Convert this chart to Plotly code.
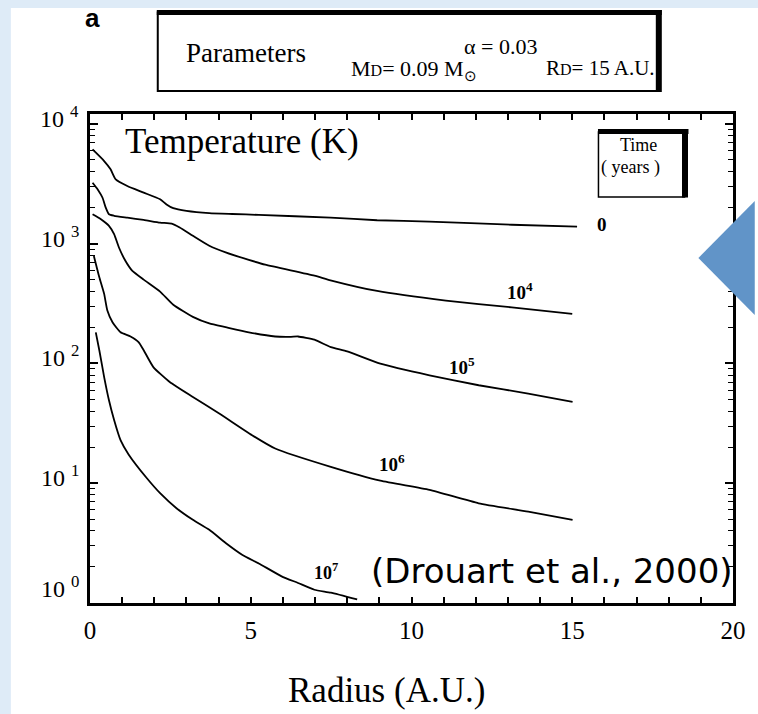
import math
import plotly.graph_objects as go

# ---------------- data ----------------
radius_t0 = [0.08, 0.44, 0.64, 0.80, 1.16, 1.67, 2.18, 2.38, 2.59, 3.0, 3.71, 4.42, 5.25, 7.48, 8.93, 10.55, 13.12, 15.15]
temp_t0 = [6120, 4900, 4180, 3440, 3030, 2670, 2350, 2130, 1980, 1880, 1800, 1770, 1740, 1650, 1570, 1530, 1440, 1390]

radius_t4 = [0.08, 0.24, 0.39, 0.49, 0.59, 0.75, 1.16, 1.67, 2.18, 2.54, 2.79, 3.20, 3.71, 4.22, 4.94, 5.45, 6.98, 7.48, 8.93, 11.07, 13.12, 15.0]
temp_t4 = [3230, 2840, 2420, 2000, 1760, 1710, 1650, 1580, 1500, 1470, 1365, 1165, 962, 845, 733, 668, 541, 495, 403, 335, 294, 259]

radius_t5 = [0.08, 0.34, 0.59, 0.75, 0.90, 1.10, 1.31, 1.67, 2.18, 2.59, 3.20, 3.71, 4.22, 4.94, 5.76, 6.25, 6.47, 6.98, 7.49, 8.0, 9.03, 10.56, 12.09, 13.63, 15.01]
temp_t5 = [1760, 1600, 1410, 1200, 930, 720, 596, 501, 398, 309, 245, 216, 201, 182, 168, 167, 168, 158, 137, 126, 99.5, 79.6, 65.8, 56.1, 47.8]

radius_t6 = [0.12, 0.29, 0.44, 0.54, 0.70, 0.95, 1.26, 1.51, 1.67, 1.97, 2.48, 3.20, 4.02, 5.04, 5.76, 7.49, 9.03, 10.56, 12.09, 13.63, 15.01]
temp_t6 = [790, 524, 381, 277, 221, 182, 168, 151, 129, 93.3, 70, 52.5, 38.2, 25.2, 19.5, 13.7, 10.5, 8.8, 6.8, 5.8, 4.95]

radius_t7 = [0.18, 0.29, 0.44, 0.59, 0.75, 0.95, 1.2, 1.77, 2.18, 2.69, 3.20, 3.71, 4.22, 4.73, 5.25, 5.96, 6.47, 6.98, 7.49, 8.31]
temp_t7 = [182, 129, 77, 49.3, 33.7, 22.9, 17.4, 11.0, 8.26, 6.19, 4.95, 4.08, 3.17, 2.53, 2.14, 1.67, 1.47, 1.29, 1.22, 1.07]

series_labels = ["0", "10<sup>4</sup>", "10<sup>5</sup>", "10<sup>6</sup>", "10<sup>7</sup>"]

x_tick_values = list(range(0, 21))
x_tick_labels = [str(v) if v % 5 == 0 else "" for v in x_tick_values]
y_tick_values = [1, 10, 100, 1000, 10000]
y_tick_labels = ["10\u00a0<sup>0</sup>", "10\u00a0<sup>1</sup>", "10\u00a0<sup>2</sup>",
                 "10\u00a0<sup>3</sup>", "10\u00a0<sup>4</sup>"]
y_minor_values = [k * 10 ** d for d in range(0, 4) for k in range(2, 10)]

# ---------------- layout geometry ----------------
W, H = 758, 714
ML, MR, MT, MB = 90, 18, 114, 111
PW = W - ML - MR
PH = H - MT - MB


def px(x):
    return (x - ML) / PW


def py(y):
    return (H - MB - y) / PH


SERIF = "Liberation Serif, Times New Roman, serif"

fig = go.Figure()
series = [(radius_t0, temp_t0), (radius_t4, temp_t4), (radius_t5, temp_t5),
          (radius_t6, temp_t6), (radius_t7, temp_t7)]
for (rx, ty), name in zip(series, series_labels):
    fig.add_trace(go.Scatter(x=rx, y=ty, mode="lines", name=name,
                             line=dict(color="black", width=1.8, shape="spline", smoothing=0.5),
                             hoverinfo="skip"))

shapes = []
# light-blue slide background strips (left and top)
shapes.append(dict(type="rect", xref="paper", yref="paper", x0=px(-5), x1=px(10), y0=py(725), y1=py(-5),
                   fillcolor="#DEEBF7", line=dict(width=0), layer="below"))
shapes.append(dict(type="rect", xref="paper", yref="paper", x0=px(-5), x1=px(770), y0=py(8), y1=py(-5),
                   fillcolor="#DEEBF7", line=dict(width=0), layer="below"))
# parameters box
shapes.append(dict(type="rect", xref="paper", yref="paper", x0=px(158.5), x1=px(665), y0=py(91), y1=py(12.5),
                   fillcolor="rgba(0,0,0,0)", line=dict(color="black", width=2)))
shapes.append(dict(type="line", xref="paper", yref="paper", x0=px(157.5), x1=px(668), y0=py(12.5), y1=py(12.5),
                   line=dict(color="black", width=5)))
shapes.append(dict(type="line", xref="paper", yref="paper", x0=px(665), x1=px(665), y0=py(10), y1=py(92),
                   line=dict(color="black", width=6)))
# time box
shapes.append(dict(type="rect", xref="paper", yref="paper", x0=px(604), x1=px(691), y0=py(197), y1=py(132),
                   fillcolor="white", line=dict(color="black", width=1.5)))
shapes.append(dict(type="line", xref="paper", yref="paper", x0=px(603.5), x1=px(695), y0=py(131.5), y1=py(131.5),
                   line=dict(color="black", width=5)))
shapes.append(dict(type="line", xref="paper", yref="paper", x0=px(691.5), x1=px(691.5), y0=py(129.5), y1=py(197.5),
                   line=dict(color="black", width=6)))
# blue arrow head on the right
tri = "M {},{} L {},{} L {},{} Z".format(px(705), py(258), px(762), py(201), px(762), py(315))
shapes.append(dict(type="path", xref="paper", yref="paper", path=tri, fillcolor="#6194C8",
                   line=dict(width=0), layer="above"))


def ann(text, x, y, size, family=SERIF, xanchor="center", yanchor="middle", bold=False):
    return dict(text=text, x=px(x), y=py(y), xref="paper", yref="paper", showarrow=False,
                xanchor=xanchor, yanchor=yanchor,
                font=dict(family=family, size=size, color="black", weight="bold" if bold else "normal"))


annotations = [
    ann("a", 92.5, 18, 26, family="Liberation Sans, Arial, sans-serif", bold=True),
    ann("Parameters", 185, 53, 27, xanchor="left"),
    ann("\u03b1 = 0.03", 505, 46, 22),
    ann("M<span style='font-size:16px'>D</span>= 0.09 M<sub>\u2299</sub>", 352, 70, 22, xanchor="left"),
    ann("R<span style='font-size:16px'>D</span>= 15 A.U.", 663, 68, 21, xanchor="right"),
    ann("Temperature (K)", 123, 141.5, 35, xanchor="left"),
    ann("Time", 644, 145, 18),
    ann("( years )", 636, 167, 18),
    ann(series_labels[0], 608, 224, 19, bold=True),
    ann(series_labels[1], 525, 291, 19, bold=True),
    ann(series_labels[2], 466, 366, 19, bold=True),
    ann(series_labels[3], 395, 463, 19, bold=True),
    ann(series_labels[4], 329, 571, 18, bold=True),
    ann("(Drouart et al., 2000)", 742, 571, 34, family="DejaVu Sans, Verdana, sans-serif", xanchor="right"),
    ann("Radius (A.U.)", 390, 690, 35),
]
# y-axis decade labels, placed slightly above their ticks as in the reference
for v, t in zip(y_tick_values, y_tick_labels):
    annotations.append(dict(text=t, x=px(81), y=math.log10(v), xref="paper", yref="y", showarrow=False,
                            xanchor="right", yanchor="middle", yshift=16 if v == 1 else 7,
                            font=dict(family=SERIF, size=24, color="black")))

fig.update_layout(
    width=W, height=H, autosize=False,
    margin=dict(l=ML, r=MR, t=MT, b=MB, pad=0),
    paper_bgcolor="white",
    plot_bgcolor="white",
    showlegend=False,
    shapes=shapes,
    annotations=annotations,
    xaxis=dict(range=[0, 20], tickmode="array", tickvals=x_tick_values, ticktext=x_tick_labels,
               ticks="inside", ticklen=6, tickwidth=1.5, tickcolor="black",
               showline=True, linewidth=2.5, linecolor="black", mirror="ticks",
               showgrid=False, zeroline=False, ticklabelstandoff=3,
               tickfont=dict(family=SERIF, size=25, color="black")),
    yaxis=dict(type="log", range=[0, 4.083], tickmode="array", tickvals=y_tick_values,
               showticklabels=False,
               ticks="inside", ticklen=8, tickwidth=1.5, tickcolor="black",
               showline=True, linewidth=2.5, linecolor="black", mirror="ticks",
               showgrid=False, zeroline=False,
               minor=dict(tickmode="array", tickvals=y_minor_values, ticks="inside", ticklen=5,
                          tickwidth=1.2, tickcolor="black", showgrid=False)),
)

fig.write_html("out.html",
               config={"displayModeBar": False, "responsive": False},
               post_script=("document.documentElement.style.overflow='hidden';"
                            "document.body.style.margin='0';document.body.style.overflow='hidden';"))
